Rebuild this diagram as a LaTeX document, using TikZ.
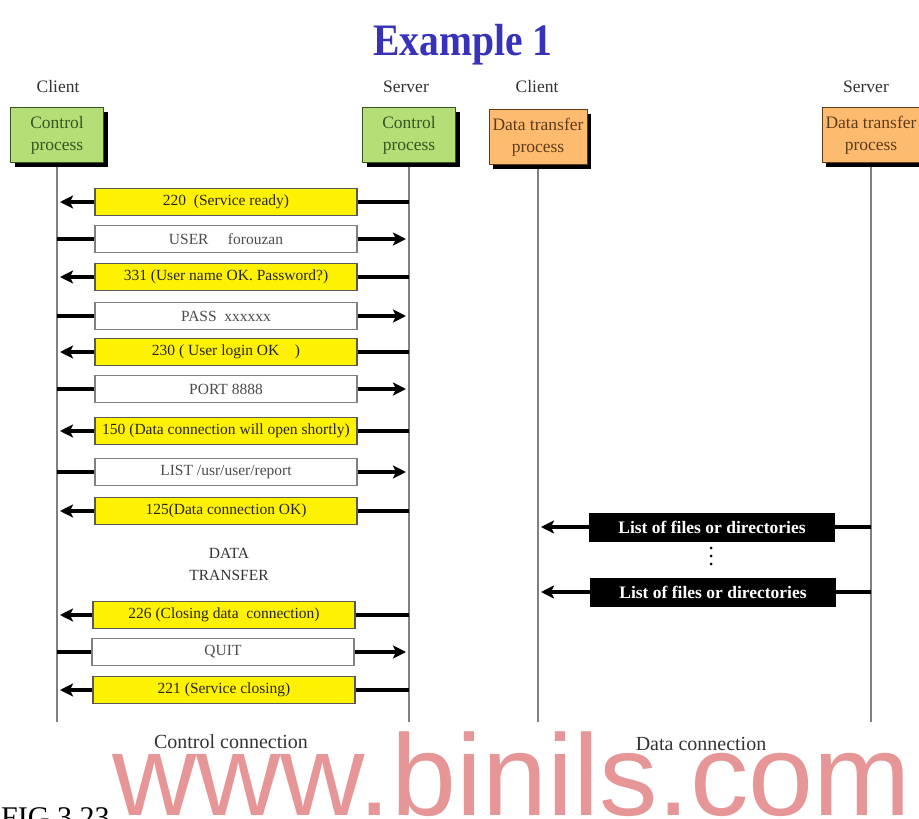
\documentclass[tikz,border=0pt]{standalone}
\usepackage{fontspec}
\setmainfont{Liberation Serif}
\newfontfamily\webfont{Liberation Sans}
\usetikzlibrary{arrows.meta,backgrounds,shadows}

\definecolor{ctlgreen}{RGB}{180,222,118}
\definecolor{ctltext}{RGB}{55,85,35}
\definecolor{dtorange}{RGB}{253,187,112}
\definecolor{dttext}{RGB}{95,60,25}
\definecolor{ttlblue}{RGB}{55,50,185}
\definecolor{wmpink}{RGB}{230,150,150}
\definecolor{lifegray}{RGB}{128,128,128}

\begin{document}
\begin{tikzpicture}[x=1pt,y=-1pt,
    hdr/.style={font=\fontsize{17.5}{20}\selectfont,text=black!80},
    ctlproc/.style={fill=ctlgreen,draw=ctltext,text=ctltext,line width=0.8pt,minimum width=93pt,minimum height=55pt,inner sep=0pt,align=center,font=\fontsize{17.5}{22}\selectfont,drop shadow={shadow xshift=4pt,shadow yshift=-4pt,fill=black,opacity=1}},
    dtproc/.style={ctlproc,fill=dtorange,draw=dttext,text=dttext,minimum width=98pt},
    lifeline/.style={draw=lifegray,line width=2pt},
    msgsrv/.style={fill=yellow,draw=black!65,line width=1.2pt,minimum width=262pt,minimum height=27pt,inner sep=0pt,font=\fontsize{15.5}{16}\selectfont,text=black!85},
    msgcli/.style={msgsrv,fill=white,draw=black!50,text=black!70},
    msglist/.style={fill=black,text=white,minimum width=246pt,minimum height=29pt,inner sep=0pt,font=\bfseries\fontsize{17.5}{18}\selectfont},
    msgarrow/.style={line width=3.5pt,-{Stealth[length=13pt,width=13pt,inset=3pt]},shorten >=3pt}]
  \useasboundingbox (0,0) rectangle (919,819);

  \node[font=\bfseries\fontsize{45}{45}\selectfont,text=ttlblue,xscale=0.88,anchor=base] (ttl) at (463,55) {Example 1};

  % the four processes
  \node[hdr] (h1) at (58,87) {Client};
  \node[hdr] (h2) at (406,87) {Server};
  \node[hdr] (h3) at (537,87) {Client};
  \node[hdr] (h4) at (866,87) {Server};
  \node[ctlproc] (cctl) at (57,135) {Control\\process};
  \node[ctlproc] (sctl) at (409,135) {Control\\process};
  \node[dtproc] (cdt) at (538,137) {Data transfer\\process};
  \node[dtproc] (sdt) at (871,135) {Data transfer\\process};
  \coordinate (bot) at (0,722);

  \begin{scope}[on background layer]
    \foreach \p in {cctl,sctl,cdt,sdt}
      \draw[lifeline] (\p.south) -- (\p.south |- bot);
  \end{scope}

  % control connection
  \foreach \y/\x/\txt/\kind/\from/\to [count=\i] in {
      202/226/{220\ \ (Service ready)}/msgsrv/sctl/cctl,
      239/226/{USER\quad\ forouzan}/msgcli/cctl/sctl,
      277/226/{331 (User name OK. Password?)}/msgsrv/sctl/cctl,
      316/226/{PASS\ \ xxxxxx}/msgcli/cctl/sctl,
      352/226/{230 ( User login OK\quad)}/msgsrv/sctl/cctl,
      389/226/{PORT 8888}/msgcli/cctl/sctl,
      431/226/{150 (Data connection will open shortly)}/msgsrv/sctl/cctl,
      472/226/{LIST /usr/user/report}/msgcli/cctl/sctl,
      511/226/{125(Data connection OK)}/msgsrv/sctl/cctl,
      615/224/{226 (Closing data\ \ connection)}/msgsrv/sctl/cctl,
      652/223/{QUIT}/msgcli/cctl/sctl,
      690/224/{221 (Service closing)}/msgsrv/sctl/cctl}
  {
    \node[\kind] (m\i) at (\x,\y) {\txt};
    \begin{scope}[on background layer]
      \draw[msgarrow] (\from |- m\i) -- (\to |- m\i);
    \end{scope}
  }
  \node[font=\fontsize{15.5}{22}\selectfont,align=center,text=black!80] (dtx) at (229,564) {DATA\\TRANSFER};

  % data connection
  \node[msglist] (d1) at (712,527) {List of files or directories};
  \node[msglist] (d2) at (713,592) {List of files or directories};
  \begin{scope}[on background layer]
    \draw[msgarrow] (sdt |- d1) -- (cdt |- d1);
    \draw[msgarrow] (sdt |- d2) -- (cdt |- d2);
  \end{scope}
  \foreach \d in {548,556,564}
    \fill (711,\d) circle (1.5pt);

  \node[font=\fontsize{20}{20}\selectfont,text=black!80] (lc) at (231,742) {Control connection};
  \node[font=\fontsize{20}{20}\selectfont,text=black!80] (ld) at (701,744) {Data connection};
  \node[font=\fontsize{30}{30}\selectfont,anchor=base west,inner sep=0pt] (fig) at (1,827) {FIG 3.23};
  \node[font=\webfont\fontsize{123}{123}\selectfont,text=wmpink,anchor=base west,inner sep=0pt,xscale=0.95,yscale=0.94] (wm) at (112,815) {www.binils.com};
\end{tikzpicture}
\end{document}
